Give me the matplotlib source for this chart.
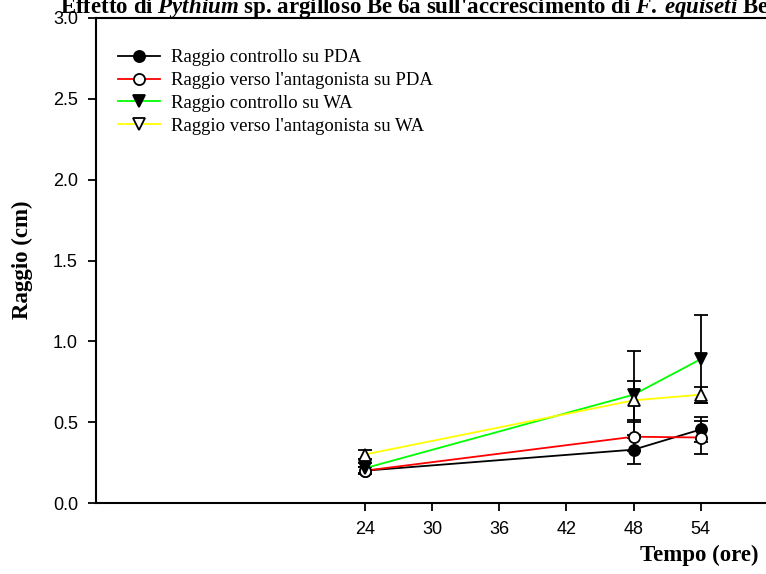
import matplotlib
matplotlib.use("Agg")
import matplotlib.pyplot as plt

# Data
hours = [24, 48, 54]
pda_ctrl = [0.20, 0.33, 0.455]
pda_ctrl_err = [0.02, 0.09, 0.08]
pda_antag = [0.20, 0.41, 0.405]
pda_antag_err = [0.02, 0.09, 0.10]
wa_ctrl = [0.215, 0.67, 0.89]
wa_ctrl_err = [0.03, 0.27, 0.27]
wa_antag = [0.30, 0.635, 0.67]
wa_antag_err = [0.03, 0.12, 0.05]

labels = ["Raggio controllo su PDA",
          "Raggio verso l'antagonista su PDA",
          "Raggio controllo su WA",
          "Raggio verso l'antagonista su WA"]
xticks = [24, 30, 36, 42, 48, 54]
yticks = [0.0, 0.5, 1.0, 1.5, 2.0, 2.5, 3.0]

plt.rcParams['mathtext.fontset'] = 'custom'
plt.rcParams['mathtext.it'] = 'Liberation Serif:italic:bold'
plt.rcParams['mathtext.rm'] = 'Liberation Serif:bold'

W, H = 766, 574
fig = plt.figure(figsize=(W / 100, H / 100), dpi=100)
ax = fig.add_axes([96 / W, (H - 503) / H, (W - 96 + 2) / W, (503 - 18) / H])

series = [
    (pda_ctrl, pda_ctrl_err, 'black', 'o', 'black'),
    (pda_antag, pda_antag_err, 'red', 'o', 'white'),
    (wa_ctrl, wa_ctrl_err, '#00ff00', 'v', 'black'),
    (wa_antag, wa_antag_err, '#ffff00', '^', 'white'),
]
handles = []
for (y, e, c, m, fc), lab in zip(series, labels):
    ax.errorbar(hours, y, yerr=e, fmt='none', ecolor='black', elinewidth=1.3,
                capsize=4.7, capthick=1.3, zorder=2)
    ax.plot(hours, y, color=c, lw=1.3, zorder=3)
    ax.plot(hours, y, ls='none', marker=m, ms=8, mfc=fc, mec='black', mew=1.3, zorder=4)
    legm = 'v' if m == '^' else m
    h, = ax.plot([], [], color=c, lw=1.3, marker=legm, ms=8, mfc=fc, mec='black', mew=1.3,
                 label=lab)
    handles.append(h)

ax.set_xlim(0, 60)
ax.set_ylim(0, 3.0)
ax.set_xticks(xticks)
ax.set_yticks(yticks)
ax.set_xticklabels([str(t) for t in xticks])
ax.set_yticklabels(['%.1f' % t for t in yticks])
ax.tick_params(direction='out', length=6, width=1.3, labelsize=13, pad=7)
for lab in ax.get_xticklabels() + ax.get_yticklabels():
    lab.set_fontfamily('Liberation Sans')
for s in ax.spines.values():
    s.set_linewidth(1.5)
ax.spines['right'].set_visible(False)

leg = fig.legend(handles=handles, loc='upper left',
                 bbox_to_anchor=(118 / W, (H - 49) / H), borderaxespad=0, borderpad=0,
                 frameon=False, handlelength=2.24, handletextpad=0.6, labelspacing=0.31,
                 prop={'family': 'Liberation Serif', 'size': 13.5})

fig.text(22 / W, (H - 260) / H, 'Raggio (cm)', rotation=90, ha='center', va='center',
         family='Liberation Serif', weight='bold', fontsize=16.5)
fig.text(758 / W, (H - 561) / H, 'Tempo (ore)', ha='right', va='baseline',
         family='Liberation Serif', weight='bold', fontsize=16.5)

title = (r"Effetto di $\mathit{Pythium}$ sp. argilloso Be 6a sull'accrescimento di "
         r"$\mathit{F.\:equiseti}$ Be 6a")
fig.text(60 / W, (H - 13) / H, title, ha='left', va='baseline',
         family='Liberation Serif', weight='bold', fontsize=16.5)

fig.savefig('out.png', dpi=100)
